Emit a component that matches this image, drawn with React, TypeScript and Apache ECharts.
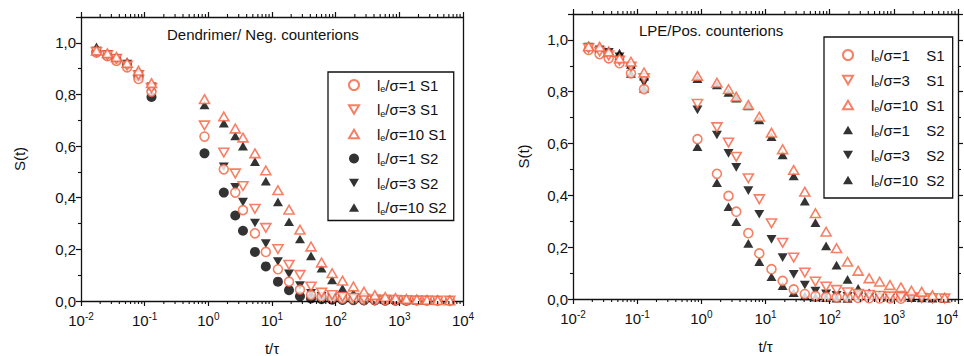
import React, { useEffect, useRef } from 'react';
import * as echarts from 'echarts';

// time grid t/τ shared by all series
const tValues = [0.0175, 0.026, 0.036, 0.053, 0.08, 0.128, 0.87, 1.75, 2.65, 3.5, 5.4, 8.0, 12.4, 18.5, 27.5, 41, 60, 88, 128, 190, 278, 412, 600, 870, 1290, 1880, 2720, 4000, 6200];

// Left panel: Dendrimer / Neg. counterions
const leftL1S1 = [0.962, 0.948, 0.93, 0.905, 0.86, 0.81, 0.637, 0.51, 0.42, 0.352, 0.262, 0.19, 0.123, 0.075, 0.044, 0.023, 0.016, 0.012, 0.009, 0.007, 0.005, 0.004, 0.003, 0.003, 0.002, 0.002, 0.001, 0.001, 0.001];
const leftL3S1 = [0.965, 0.952, 0.938, 0.912, 0.875, 0.825, 0.68, 0.575, 0.494, 0.445, 0.357, 0.283, 0.201, 0.14, 0.101, 0.056, 0.032, 0.023, 0.016, 0.012, 0.009, 0.006, 0.005, 0.004, 0.003, 0.002, 0.002, 0.001, 0.001];
const leftL10S1 = [0.97, 0.96, 0.945, 0.922, 0.892, 0.844, 0.782, 0.715, 0.668, 0.633, 0.572, 0.506, 0.429, 0.354, 0.276, 0.211, 0.149, 0.108, 0.079, 0.056, 0.036, 0.023, 0.016, 0.012, 0.008, 0.006, 0.004, 0.003, 0.002];
const leftL1S2 = [0.965, 0.95, 0.935, 0.915, 0.87, 0.79, 0.572, 0.42, 0.331, 0.272, 0.19, 0.134, 0.075, 0.042, 0.018, 0.01, 0.007, 0.005, 0.004, 0.003, 0.002, 0.002, 0.001, 0.001, 0.001, null, null, null, null];
const leftL3S2 = [0.968, 0.955, 0.94, 0.918, 0.878, 0.83, null, 0.52, 0.44, 0.383, 0.302, 0.222, 0.153, 0.105, 0.06, 0.03, 0.018, 0.012, 0.008, 0.006, 0.004, 0.003, 0.002, 0.002, 0.001, null, null, null, null];
const leftL10S2 = [0.984, 0.957, 0.944, 0.926, 0.89, 0.83, 0.759, 0.689, 0.639, 0.6, 0.54, 0.464, 0.384, 0.307, 0.24, 0.175, 0.127, 0.082, 0.049, 0.03, 0.016, 0.01, 0.007, 0.005, 0.004, 0.003, 0.002, 0.005, 0.001];

// Right panel: LPE / Pos. counterions
const rightL1S1 = [0.961, 0.945, 0.929, 0.91, 0.871, 0.81, 0.617, 0.483, 0.398, 0.337, 0.254, 0.176, 0.115, 0.07, 0.037, 0.019, 0.012, 0.008, 0.006, 0.005, 0.004, 0.003, 0.002, 0.002, 0.001, null, null, null, null];
const rightL3S1 = [0.968, 0.955, 0.94, 0.92, 0.897, 0.852, 0.753, 0.663, 0.604, 0.549, 0.466, 0.385, 0.292, 0.217, 0.16, 0.102, 0.067, 0.048, 0.035, 0.026, 0.02, 0.016, 0.012, 0.01, 0.008, 0.006, 0.004, 0.003, 0.002];
const rightL10S1 = [0.975, 0.974, 0.955, 0.929, 0.916, 0.874, 0.861, 0.835, 0.81, 0.781, 0.749, 0.704, 0.642, 0.578, 0.498, 0.414, 0.331, 0.26, 0.196, 0.144, 0.109, 0.08, 0.067, 0.054, 0.045, 0.032, 0.028, 0.015, 0.005];
const rightL1S2 = [0.977, 0.965, 0.95, 0.94, 0.871, 0.813, 0.588, 0.449, 0.356, 0.298, 0.215, 0.144, 0.086, 0.051, 0.024, 0.012, 0.007, 0.005, 0.003, 0.002, null, null, null, null, null, null, null, null, null];
const rightL3S2 = [0.972, 0.962, 0.952, 0.935, 0.885, 0.835, 0.73, 0.633, 0.562, 0.508, 0.418, 0.327, 0.23, 0.16, 0.095, 0.054, 0.031, 0.02, 0.014, 0.01, 0.007, 0.005, 0.004, 0.003, 0.002, 0.002, null, null, null];
const rightL10S2 = [0.976, 0.968, 0.958, 0.949, 0.905, 0.86, 0.85, 0.826, 0.797, 0.775, 0.745, 0.691, 0.627, 0.556, 0.475, 0.378, 0.295, 0.205, 0.131, 0.076, 0.041, 0.024, 0.015, 0.01, 0.007, 0.005, 0.004, 0.003, 0.002];

// axis ranges / ticks
const xMin = 0.01;
const xMax = 10000;
const yMin = 0;
const yMax = 1.1;
const yStep = 0.2;
const minorMultipliers = [2, 3, 4, 5, 6, 7, 8, 9];
const decadeExponents = [-2, -1, 0, 1, 2, 3];

const leftTitle = 'Dendrimer/ Neg. counterions';
const rightTitle = 'LPE/Pos. counterions';
const leftLegendLabels = ['1 S1', '3 S1', '10 S1', '1 S2', '3 S2', '10 S2'];
const rightLegend = [['1', 'S1'], ['3', 'S1'], ['10', 'S1'], ['1', 'S2'], ['3', 'S2'], ['10', 'S2']];

const ORANGE = '#f2603e';
const BLACK = '#000';
const FONT = '"Liberation Sans", Arial, sans-serif';
const DOWN_TRI = 'path://M0,0L10,0L5,8.66Z';
const UP_TRI = 'path://M5,0L10,8.66L0,8.66Z';

function pairs(vals: (number | null)[]) {
  const out: number[][] = [];
  vals.forEach((v, i) => {
    if (v !== null) out.push([tValues[i], v]);
  });
  return out;
}

const minorValues: number[][] = [];
decadeExponents.forEach((e) => {
  minorMultipliers.forEach((m) => minorValues.push([m * Math.pow(10, e), 0]));
});

export default function App() {
  const ref = useRef<HTMLDivElement>(null);
  useEffect(() => {
    if (!ref.current) return;
    const chart = echarts.init(ref.current, null, { renderer: 'svg' });

    const grids = [
      { left: 81, top: 17, width: 382, height: 284, outerBoundsMode: 'none', containLabel: false },
      { left: 573, top: 14, width: 385, height: 285, outerBoundsMode: 'none', containLabel: false },
    ];

    const xLabelFmt = (v: number) => {
      const e = Math.round(Math.log10(v));
      return '10{s|' + e + '}';
    };
    const yLabelFmt = (v: number) => {
      if (Math.abs(v * 5 - Math.round(v * 5)) > 1e-6) return '';
      return v.toFixed(1).replace('.', ',');
    };

    const xAxes: any[] = [];
    const yAxes: any[] = [];
    [0, 1].forEach((g) => {
      xAxes.push({
        type: 'log',
        gridIndex: g,
        min: xMin,
        max: xMax,
        logBase: 10,
        interval: 1,
        position: 'bottom',
        name: 't/τ',
        nameLocation: 'middle',
        nameGap: 40,
        nameTextStyle: { fontSize: 15, fontFamily: FONT, color: '#111' },
        axisLine: { show: true, onZero: false, lineStyle: { color: '#111', width: 1.3 } },
        axisTick: { show: true, inside: false, length: 5, lineStyle: { color: '#111', width: 1.2 } },
        splitLine: { show: false },
        axisLabel: {
          formatter: xLabelFmt,
          margin: 10,
          color: '#111',
          fontSize: 15,
          fontFamily: FONT,
          hideOverlap: false,
          alignMaxLabel: g === 1 ? 'right' : undefined,
          rich: { s: { fontSize: 10, fontFamily: FONT, color: '#111', padding: [0, 0, 9, 0] } },
        },
      });
      xAxes.push({
        type: 'log',
        gridIndex: g,
        min: xMin,
        max: xMax,
        logBase: 10,
        interval: 1,
        position: 'top',
        axisLine: { show: true, onZero: false, lineStyle: { color: '#111', width: 1.3 } },
        axisTick: { show: true, inside: false, length: 5, lineStyle: { color: '#111', width: 1.2 } },
        axisLabel: { show: false },
        splitLine: { show: false },
      });
      yAxes.push({
        type: 'value',
        gridIndex: g,
        min: yMin,
        max: yMax,
        interval: yStep,
        position: 'left',
        name: 'S(t)',
        nameLocation: 'middle',
        nameGap: g === 0 ? 54 : 42,
        nameTextStyle: { fontSize: 15, fontFamily: FONT, color: '#111' },
        axisLine: { show: true, onZero: false, lineStyle: { color: '#111', width: 1.3 } },
        axisTick: { show: true, inside: false, length: 5, lineStyle: { color: '#111', width: 1.2 } },
        minorTick: { show: true, splitNumber: 2, length: 3, lineStyle: { color: '#111', width: 1.1 } },
        splitLine: { show: false },
        minorSplitLine: { show: false },
        axisLabel: { formatter: yLabelFmt, margin: 5, color: '#111', fontSize: 15, fontFamily: FONT, showMaxLabel: false },
      });
      yAxes.push({
        type: 'value',
        gridIndex: g,
        min: yMin,
        max: yMax,
        interval: yStep,
        position: 'right',
        axisLine: { show: true, onZero: false, lineStyle: { color: '#111', width: 1.3 } },
        axisTick: { show: g === 1, inside: false, length: 5, lineStyle: { color: '#111', width: 1.2 } },
        minorTick: { show: g === 1, splitNumber: 2, length: 3, lineStyle: { color: '#111', width: 1.1 } },
        splitLine: { show: false },
        axisLabel: { show: false },
      });
    });

    const hollow = (color: string) => ({ color: '#fff', borderColor: color, borderWidth: 1.6 });
    const filled = (color: string) => ({ color, borderColor: color, borderWidth: 0 });

    const mk = (name: string, g: number, vals: (number | null)[], symbol: string, size: number, style: any, z: number) => ({
      name,
      type: 'scatter',
      xAxisIndex: g * 2,
      yAxisIndex: g * 2,
      data: pairs(vals),
      symbol,
      symbolKeepAspect: true,
      symbolSize: size,
      itemStyle: style,
      z,
    });

    const minorTickSeries = (g: number) => ({
      type: 'custom',
      xAxisIndex: g * 2,
      yAxisIndex: g * 2,
      clip: false,
      silent: true,
      z: 10,
      data: minorValues,
      renderItem: (_p: any, api: any) => {
        const v = api.value(0);
        const b = api.coord([v, yMin]);
        const t = api.coord([v, yMax]);
        const st = { stroke: '#111', lineWidth: 1.1 };
        return {
          type: 'group',
          children: [
            { type: 'line', shape: { x1: b[0], y1: b[1], x2: b[0], y2: b[1] + 3 }, style: st },
            { type: 'line', shape: { x1: t[0], y1: t[1], x2: t[0], y2: t[1] - 3 }, style: st },
          ],
        };
      },
    });

    const series: any[] = [
      mk('L4', 0, leftL1S2, 'circle', 10, filled(BLACK), 2),
      mk('L5', 0, leftL3S2, DOWN_TRI, 10, filled(BLACK), 2),
      mk('L6', 0, leftL10S2, UP_TRI, 10, filled(BLACK), 2),
      mk('L1', 0, leftL1S1, 'circle', 9, hollow(ORANGE), 3),
      mk('L2', 0, leftL3S1, DOWN_TRI, 10, hollow(ORANGE), 3),
      mk('L3', 0, leftL10S1, UP_TRI, 10, hollow(ORANGE), 3),
      mk('R4', 1, rightL1S2, UP_TRI, 10, filled(BLACK), 2),
      mk('R5', 1, rightL3S2, DOWN_TRI, 10, filled(BLACK), 2),
      mk('R6', 1, rightL10S2, UP_TRI, 10, filled(BLACK), 2),
      mk('R1', 1, rightL1S1, 'circle', 9, hollow(ORANGE), 3),
      mk('R2', 1, rightL3S1, DOWN_TRI, 10, hollow(ORANGE), 3),
      mk('R3', 1, rightL10S1, UP_TRI, 10, hollow(ORANGE), 3),
      minorTickSeries(0),
      minorTickSeries(1),
    ];

    const subRich = {
      p: { width: 13, fontSize: 15, fontFamily: FONT },
      e: { fontSize: 9, fontFamily: FONT, color: '#111', padding: [8, 0, 0, 0] },
      w: { fontSize: 15, fontFamily: FONT, color: '#111', width: 47 },
    };

    chart.setOption({
      animation: false,
      backgroundColor: '#fff',
      title: [
        { text: leftTitle, left: 162, top: 22, textStyle: { fontSize: 15, fontWeight: 'normal', fontFamily: FONT, color: '#111' } },
        { text: rightTitle, left: 634, top: 18, textStyle: { fontSize: 15, fontWeight: 'normal', fontFamily: FONT, color: '#111' } },
      ],
      grid: grids,
      xAxis: xAxes,
      yAxis: yAxes,
      legend: [
        {
          data: ['L1', 'L2', 'L3', 'L4', 'L5', 'L6'],
          orient: 'vertical',
          left: 328,
          top: 72,
          padding: [4, 7, 4, 20],
          itemGap: 6.5,
          itemWidth: 10,
          itemHeight: 10,
          borderColor: '#111',
          borderWidth: 1.3,
          selectedMode: false,
          formatter: (name: string) => {
            const i = Number(name.slice(1)) - 1;
            return '{p| }l{e|e}/σ=' + leftLegendLabels[i];
          },
          textStyle: { fontSize: 15, fontFamily: FONT, color: '#111', lineHeight: 18, rich: subRich },
        },
        {
          data: ['R1', 'R2', 'R3', 'R4', 'R5', 'R6'],
          orient: 'vertical',
          left: 824,
          top: 37,
          padding: [9, 8, 9, 18],
          itemGap: 7,
          itemWidth: 10,
          itemHeight: 10,
          borderColor: '#111',
          borderWidth: 1.3,
          selectedMode: false,
          formatter: (name: string) => {
            const i = Number(name.slice(1)) - 1;
            return '{p| }l{e|e}{w|/σ=' + rightLegend[i][0] + '}' + rightLegend[i][1];
          },
          textStyle: { fontSize: 15, fontFamily: FONT, color: '#111', lineHeight: 18, rich: subRich },
        },
      ],
      series,
    });
    return () => chart.dispose();
  }, []);
  return <div ref={ref} style={{ position: 'fixed', left: 0, top: 0, width: 964, height: 356 }} />;
}
